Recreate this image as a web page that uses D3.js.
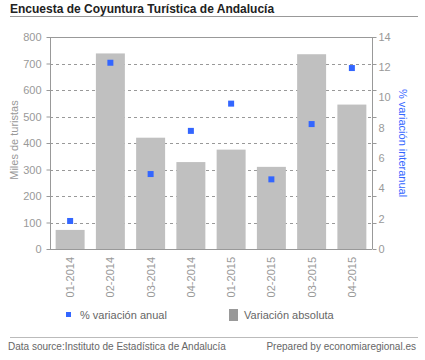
<!DOCTYPE html>
<html><head><meta charset="utf-8">
<script src="https://cdn.jsdelivr.net/npm/d3@7"></script>
<style>
body{margin:0;background:#fff;}
svg{display:block;font-family:"Liberation Sans",Arial,sans-serif;}
</style></head>
<body><svg id="c" width="425" height="360"></svg>
<script>
const categories = ["01-2014","02-2014","03-2014","04-2014","01-2015","02-2015","03-2015","04-2015"];
const absolute = [72, 738, 420, 328, 375, 310, 735, 545];
const pctAnnual = [1.85, 12.3, 4.95, 7.8, 9.6, 4.6, 8.25, 11.95];
const leftTicks = [0,100,200,300,400,500,600,700,800];
const rightTicks = [0,2,4,6,8,10,12,14];

const svg = d3.select("#c");
const L = 50, R = 372, T = 37, B = 249;
const x = d3.scaleBand().domain(categories).range([L, R]).paddingInner(0.28).paddingOuter(0.14);
const yL = d3.scaleLinear().domain([0, 800]).range([B, T]);
const yR = d3.scaleLinear().domain([0, 14]).range([B, T]);
const axisCol = "#999", textCol = "#999";

// title
svg.append("text").attr("x", 10).attr("y", 13).attr("font-size", 12).attr("font-weight", "bold")
  .attr("fill", "#222").text("Encuesta de Coyuntura Turística de Andalucía");
svg.append("line").attr("x1", 10).attr("x2", 418).attr("y1", 16.5).attr("y2", 16.5).attr("stroke", "#999");

// grid
svg.append("g").selectAll("line").data(leftTicks.filter(d => d > 0 && d < 800)).join("line")
  .attr("x1", L).attr("x2", R).attr("y1", d => Math.round(yL(d)) + 0.5).attr("y2", d => Math.round(yL(d)) + 0.5)
  .attr("stroke", "#999").attr("stroke-dasharray", "3,3");
svg.append("line").attr("x1", L).attr("x2", R).attr("y1", T + 0.5).attr("y2", T + 0.5).attr("stroke", axisCol);

// bars
svg.append("g").selectAll("rect").data(absolute).join("rect")
  .attr("x", (d, i) => x(categories[i])).attr("width", x.bandwidth())
  .attr("y", d => yL(d)).attr("height", d => B - yL(d)).attr("fill", "#c0c0c0");

// points
svg.append("g").selectAll("rect").data(pctAnnual).join("rect")
  .attr("x", (d, i) => x(categories[i]) + x.bandwidth() / 2 - 3).attr("y", d => yR(d) - 3)
  .attr("width", 6).attr("height", 6).attr("fill", "#3366ff");

// left axis
const gl = svg.append("g").attr("transform", `translate(${L + 0.5},0)`)
  .call(d3.axisLeft(yL).tickValues(leftTicks).tickSize(4).tickPadding(5));
gl.select(".domain").attr("stroke", axisCol).attr("d", `M0,${T}V${B}`);
gl.selectAll(".tick line").attr("stroke", axisCol);
gl.selectAll(".tick text").attr("fill", textCol).attr("font-size", 11).attr("font-family", "Liberation Sans, Arial, sans-serif");

// right axis: ticks aligned to left grid, labels own values
const gr = svg.append("g").attr("transform", `translate(${R + 0.5},0)`);
gr.append("path").attr("d", `M0,${T}V${B}`).attr("stroke", axisCol).attr("fill", "none");
gr.selectAll("line").data(leftTicks).join("line").attr("x1", 0).attr("x2", 4)
  .attr("y1", d => Math.round(yL(d)) + 0.5).attr("y2", d => Math.round(yL(d)) + 0.5).attr("stroke", axisCol);
gr.selectAll("text").data(rightTicks).join("text").attr("x", 6).attr("y", d => yR(d)).attr("dy", "0.35em")
  .attr("fill", textCol).attr("font-size", 11).text(d => d);

// x axis
svg.append("line").attr("x1", L).attr("x2", R).attr("y1", B + 0.5).attr("y2", B + 0.5).attr("stroke", axisCol);
svg.append("g").selectAll("text").data(categories).join("text")
  .attr("transform", d => `translate(${x(d) + x.bandwidth() / 2 + 4},${B + 8}) rotate(-90)`)
  .attr("text-anchor", "end").attr("font-size", 11).attr("fill", textCol).text(d => d);

// axis titles
svg.append("text").attr("transform", `translate(18,140) rotate(-90)`).attr("text-anchor", "middle")
  .attr("font-size", 11).attr("fill", textCol).text("Miles de turistas");
svg.append("text").attr("transform", `translate(399,143) rotate(90)`).attr("text-anchor", "middle")
  .attr("font-size", 11).attr("fill", "#3366ff").text("% variación interanual");

// legend
svg.append("rect").attr("x", 66).attr("y", 312).attr("width", 5).attr("height", 5).attr("fill", "#3366ff");
svg.append("text").attr("x", 80).attr("y", 319).attr("font-size", 11).attr("fill", "#666").text("% variación anual");
svg.append("rect").attr("x", 229).attr("y", 309).attr("width", 9).attr("height", 12).attr("fill", "#999");
svg.append("text").attr("x", 244).attr("y", 319).attr("font-size", 11).attr("fill", "#666").text("Variación absoluta");

// footer
svg.append("line").attr("x1", 10).attr("x2", 418).attr("y1", 337.5).attr("y2", 337.5).attr("stroke", "#bbb");
svg.append("text").attr("x", 8).attr("y", 350).attr("font-size", 10).attr("fill", "#666")
  .text("Data source:Instituto de Estadística de Andalucía");
svg.append("text").attr("x", 416).attr("y", 350).attr("text-anchor", "end").attr("font-size", 10).attr("fill", "#666")
  .text("Prepared by economiaregional.es");
</script></body></html>
